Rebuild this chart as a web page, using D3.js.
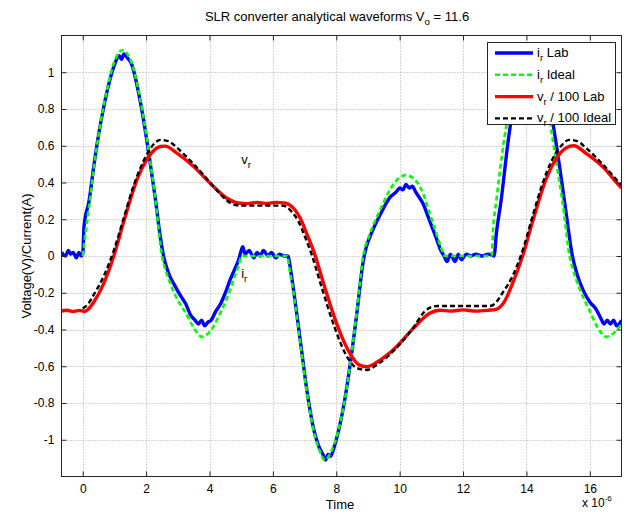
<!DOCTYPE html>
<html>
<head>
<meta charset="utf-8">
<script src="https://cdn.jsdelivr.net/npm/d3@7"></script>
<style>
  body { margin: 0; background: #fff; }
  svg text { font-family: "Liberation Sans", Arial, Helvetica, sans-serif; fill: #000; }
</style>
</head>
<body>
<svg id="chart" width="629" height="516"></svg>
<script>
// Time values are in microseconds (axis carries the x 10^-6 multiplier).
const xTicks = [0, 2, 4, 6, 8, 10, 12, 14, 16];
const yTicks = [-1, -0.8, -0.6, -0.4, -0.2, 0, 0.2, 0.4, 0.6, 0.8, 1];

// Resonant current, measured
const irLabT = [-0.67, -0.55, -0.45, -0.38, -0.3, -0.2, -0.12, -0.05, 0, 0.04, 0.2, 0.35, 0.5, 0.65, 0.8, 1.0, 1.15, 1.22, 1.3, 1.4, 1.55, 1.7, 1.9, 2.1, 2.3, 2.45, 2.55, 2.7, 2.9, 3.1, 3.25, 3.4, 3.55, 3.65, 3.75, 3.85, 3.95, 4.05, 4.2, 4.35, 4.5, 4.65, 4.8, 4.92, 5.0, 5.05, 5.12, 5.25, 5.4, 5.5, 5.6, 5.7, 5.85, 5.95, 6.1, 6.2, 6.35, 6.47, 6.58, 6.68, 6.88, 7.08, 7.26, 7.46, 7.58, 7.66, 7.74, 7.82, 7.95, 8.1, 8.25, 8.43, 8.65, 8.85, 8.95, 9.1, 9.4, 9.7, 9.9, 10.0, 10.1, 10.2, 10.3, 10.4, 10.5, 10.75, 10.95, 11.15, 11.3, 11.4, 11.5, 11.6, 11.75, 11.85, 11.95, 12.1, 12.25, 12.4, 12.6, 12.8, 12.98, 13.05, 13.2, 13.42, 13.65, 13.9, 14.15, 14.4, 14.65, 14.94, 15.2, 15.45, 15.6, 15.8, 16.0, 16.2, 16.35, 16.45, 16.55, 16.65, 16.75, 16.85, 17.0];
const irLabV = [0.02, 0.0, 0.03, 0.01, 0.02, -0.01, 0.02, 0.0, 0.01, 0.16, 0.3, 0.49, 0.66, 0.8, 0.92, 1.04, 1.09, 1.07, 1.1, 1.08, 1.04, 0.94, 0.76, 0.54, 0.3, 0.1, 0.0, -0.09, -0.16, -0.22, -0.26, -0.32, -0.35, -0.37, -0.35, -0.38, -0.36, -0.35, -0.3, -0.26, -0.2, -0.13, -0.07, -0.02, 0.03, 0.05, 0.01, 0.03, -0.01, 0.02, 0.0, 0.03, 0.0, 0.02, -0.01, 0.01, 0.0, 0.0, -0.1, -0.22, -0.48, -0.74, -0.92, -1.04, -1.08, -1.11, -1.08, -1.09, -1.03, -0.93, -0.8, -0.6, -0.31, -0.03, 0.05, 0.12, 0.23, 0.32, 0.35, 0.37, 0.36, 0.39, 0.37, 0.38, 0.35, 0.28, 0.19, 0.1, 0.03, 0.0, -0.03, 0.01, -0.03, 0.01, -0.02, 0.01, 0.0, 0.01, 0.0, 0.01, 0.0, 0.12, 0.3, 0.62, 0.88, 1.04, 1.1, 1.06, 0.9, 0.61, 0.3, 0.0, -0.1, -0.19, -0.25, -0.29, -0.34, -0.37, -0.35, -0.37, -0.35, -0.38, -0.35];

// Resonant current, ideal model
const irIdealT = [0, 0.1, 0.2, 0.35, 0.5, 0.65, 0.8, 1.0, 1.25, 1.5, 1.7, 1.9, 2.1, 2.29, 2.5, 2.62, 2.76, 3.0, 3.25, 3.5, 3.76, 4.02, 4.34, 4.55, 4.76, 4.92, 5.02, 6.44, 6.55, 6.65, 6.86, 7.07, 7.25, 7.45, 7.64, 7.85, 8.05, 8.25, 8.43, 8.65, 8.85, 9.06, 9.38, 9.69, 9.95, 10.2, 10.45, 10.74, 10.95, 11.16, 11.3, 11.42, 12.9, 12.95, 13.05, 13.31, 13.55, 13.8, 14.05, 14.3, 14.55, 14.78, 14.95, 15.15, 15.36, 15.5, 15.78, 16.0, 16.25, 16.52, 16.75, 17.0];
const irIdealV = [0, 0.14, 0.27, 0.48, 0.66, 0.81, 0.93, 1.06, 1.12, 1.07, 0.95, 0.77, 0.55, 0.31, 0, -0.08, -0.15, -0.24, -0.31, -0.39, -0.44, -0.41, -0.31, -0.23, -0.13, -0.05, 0, 0, -0.1, -0.2, -0.47, -0.74, -0.92, -1.05, -1.11, -1.06, -0.96, -0.8, -0.6, -0.3, 0, 0.12, 0.25, 0.36, 0.42, 0.44, 0.42, 0.34, 0.23, 0.12, 0.05, 0, 0, 0.15, 0.3, 0.65, 0.88, 1.04, 1.12, 1.08, 0.93, 0.69, 0.5, 0.28, 0, -0.09, -0.22, -0.3, -0.39, -0.44, -0.42, -0.37];

// Resonant capacitor voltage / 100, measured
const vrLabT = [-0.67, -0.5, -0.3, -0.1, 0.05, 0.14, 0.35, 0.66, 0.98, 1.3, 1.71, 2.08, 2.45, 2.6, 2.97, 3.5, 4.02, 4.55, 4.86, 5.2, 5.5, 5.8, 6.1, 6.4, 6.55, 6.7, 6.88, 7.07, 7.3, 7.6, 8.01, 8.22, 8.43, 8.7, 8.96, 9.38, 9.9, 10.43, 10.95, 11.27, 11.6, 12.0, 12.4, 12.8, 13.04, 13.3, 13.56, 13.88, 14.2, 14.61, 14.98, 15.35, 15.5, 15.87, 16.4, 16.92, 17.0];
const vrLabV = [-0.3, -0.295, -0.302, -0.296, -0.302, -0.295, -0.25, -0.15, 0.0, 0.19, 0.414, 0.54, 0.596, 0.598, 0.56, 0.487, 0.396, 0.314, 0.29, 0.285, 0.292, 0.286, 0.292, 0.288, 0.275, 0.25, 0.2, 0.12, 0.02, -0.15, -0.367, -0.458, -0.53, -0.59, -0.603, -0.567, -0.494, -0.394, -0.312, -0.295, -0.3, -0.293, -0.3, -0.295, -0.29, -0.25, -0.15, 0.0, 0.19, 0.414, 0.54, 0.596, 0.6, 0.56, 0.487, 0.385, 0.37];

// Resonant capacitor voltage / 100, ideal model
const vrIdealT = [0, 0.15, 0.35, 0.66, 0.98, 1.3, 1.6, 1.9, 2.2, 2.45, 2.7, 3.0, 3.5, 4.02, 4.5, 4.75, 5.0, 6.3, 6.45, 6.6, 6.8, 7.0, 7.22, 7.52, 7.93, 8.15, 8.38, 8.65, 8.96, 9.3, 9.9, 10.43, 10.8, 11.0, 11.2, 12.84, 13.0, 13.25, 13.56, 13.88, 14.2, 14.5, 14.8, 15.1, 15.35, 15.6, 15.9, 16.4, 16.92, 17.0];
const vrIdealV = [-0.285, -0.265, -0.21, -0.11, 0.03, 0.21, 0.38, 0.51, 0.6, 0.632, 0.625, 0.585, 0.5, 0.4, 0.31, 0.28, 0.274, 0.274, 0.265, 0.24, 0.19, 0.11, 0.01, -0.16, -0.38, -0.48, -0.56, -0.61, -0.62, -0.59, -0.5, -0.39, -0.3, -0.278, -0.272, -0.272, -0.26, -0.2, -0.11, 0.03, 0.22, 0.39, 0.52, 0.6, 0.632, 0.625, 0.585, 0.5, 0.4, 0.385];

const legendLabels = [
  [["i", false], ["r", true], [" Lab", false]],
  [["i", false], ["r", true], [" Ideal", false]],
  [["v", false], ["r", true], [" / 100 Lab", false]],
  [["v", false], ["r", true], [" / 100 Ideal", false]]
];

const svg = d3.select("#chart");
const W = 629, H = 516;
const plot = { left: 61.5, right: 621.5, top: 35.5, bottom: 476.5 };

const x = d3.scaleLinear().domain([-0.67, 17]).range([plot.left, plot.right]);
const y = d3.scaleLinear().domain([-1.2, 1.2]).range([plot.bottom, plot.top]);

svg.append("rect").attr("width", W).attr("height", H).attr("fill", "#fff");
svg.append("rect")
  .attr("x", plot.left).attr("y", plot.top)
  .attr("width", plot.right - plot.left).attr("height", plot.bottom - plot.top)
  .attr("fill", "#fff");

// dotted grid
const grid = svg.append("g").attr("stroke", "#a8a8a8").attr("stroke-width", 1).attr("stroke-dasharray", "1,2");
grid.selectAll(".gx").data(xTicks).join("line")
  .attr("x1", d => Math.round(x(d)) + 0.5).attr("x2", d => Math.round(x(d)) + 0.5)
  .attr("y1", plot.top).attr("y2", plot.bottom);
grid.selectAll(".gy").data(yTicks).join("line")
  .attr("y1", d => Math.round(y(d)) + 0.5).attr("y2", d => Math.round(y(d)) + 0.5)
  .attr("x1", plot.left).attr("x2", plot.right);

svg.append("clipPath").attr("id", "clip").append("rect")
  .attr("x", plot.left).attr("y", plot.top)
  .attr("width", plot.right - plot.left).attr("height", plot.bottom - plot.top);

const zip = (t, v) => t.map((d, i) => [d, v[i]]);
const series = [
  { data: zip(irLabT, irLabV), color: "#0000ff", width: 3.4, dash: null },
  { data: zip(irIdealT, irIdealV), color: "#00ff00", width: 2.6, dash: "5,3" },
  { data: zip(vrLabT, vrLabV), color: "#ff0000", width: 3.4, dash: null },
  { data: zip(vrIdealT, vrIdealV), color: "#000000", width: 2.4, dash: "5,3" }
];

const line = d3.line().x(d => x(d[0])).y(d => y(d[1])).curve(d3.curveMonotoneX);
const lines = svg.append("g").attr("clip-path", "url(#clip)");
series.forEach(s => {
  lines.append("path")
    .attr("d", line(s.data))
    .attr("fill", "none")
    .attr("stroke", s.color)
    .attr("stroke-width", s.width)
    .attr("stroke-dasharray", s.dash)
    .attr("stroke-linejoin", "round");
});

// axes with inward ticks on all four sides
const fmt = d => String(+d.toFixed(1));
const axisColor = "#262626";
const xb = svg.append("g").attr("transform", `translate(0,${plot.bottom})`)
  .call(d3.axisBottom(x).tickValues(xTicks).tickFormat(fmt).tickSizeInner(-5).tickSizeOuter(0).tickPadding(7.5));
const xt = svg.append("g").attr("transform", `translate(0,${plot.top})`)
  .call(d3.axisTop(x).tickValues(xTicks).tickFormat("").tickSizeInner(-5).tickSizeOuter(0));
const yl = svg.append("g").attr("transform", `translate(${plot.left},0)`)
  .call(d3.axisLeft(y).tickValues(yTicks).tickFormat(fmt).tickSizeInner(-5).tickSizeOuter(0).tickPadding(7));
const yr = svg.append("g").attr("transform", `translate(${plot.right},0)`)
  .call(d3.axisRight(y).tickValues(yTicks).tickFormat("").tickSizeInner(-5).tickSizeOuter(0));
[xb, xt, yl, yr].forEach(g => {
  g.select(".domain").remove();
  g.selectAll("line").attr("stroke", axisColor);
  g.selectAll("text").attr("font-size", 12).attr("font-family", null).attr("fill", "#000");
});
svg.append("rect")
  .attr("x", plot.left).attr("y", plot.top)
  .attr("width", plot.right - plot.left).attr("height", plot.bottom - plot.top)
  .attr("fill", "none").attr("stroke", axisColor).attr("stroke-width", 1);

function rich(textSel, parts, size) {
  let shifted = false;
  parts.forEach(([s, sub]) => {
    const ts = textSel.append("tspan").text(s);
    if (sub && !shifted) { ts.attr("dy", 4).attr("font-size", size * 0.75); shifted = true; }
    else if (!sub && shifted) { ts.attr("dy", -4).attr("font-size", size); shifted = false; }
    else ts.attr("font-size", sub ? size * 0.75 : size);
  });
  return textSel;
}

// title
rich(svg.append("text").attr("x", 337).attr("y", 20.5).attr("text-anchor", "middle"),
  [["SLR converter analytical waveforms V", false], ["o", true], [" = 11.6", false]], 13);

// axis labels
svg.append("text").attr("x", 340).attr("y", 508.5).attr("text-anchor", "middle").attr("font-size", 13).text("Time");
svg.append("text").attr("transform", "translate(31,256) rotate(-90)").attr("text-anchor", "middle")
  .attr("font-size", 13).text("Voltage(V)/Current(A)");
const mult = svg.append("text").attr("x", 582).attr("y", 507).attr("font-size", 12);
mult.append("tspan").text("x 10");
mult.append("tspan").attr("dy", -6).attr("font-size", 8).text("-6");

// curve annotations
const notes = [
  { t: 5.0, v: 0.5, parts: [["v", false], ["r", true]] },
  { t: 5.0, v: -0.12, parts: [["i", false], ["r", true]] }
];
notes.forEach(n => rich(svg.append("text").attr("x", x(n.t)).attr("y", y(n.v)), n.parts, 13));

// legend
const lg = svg.append("g");
lg.append("rect").attr("x", 487.5).attr("y", 42.5).attr("width", 128).attr("height", 82)
  .attr("fill", "#fff").attr("stroke", axisColor).attr("stroke-width", 1);
series.forEach((s, i) => {
  const cy = 53 + i * 21.8;
  lg.append("line").attr("x1", 495).attr("x2", 533).attr("y1", cy).attr("y2", cy)
    .attr("stroke", s.color).attr("stroke-width", s.width).attr("stroke-dasharray", s.dash);
  rich(lg.append("text").attr("x", 537).attr("y", cy + 4), legendLabels[i], 13);
});
</script>
</body>
</html>
